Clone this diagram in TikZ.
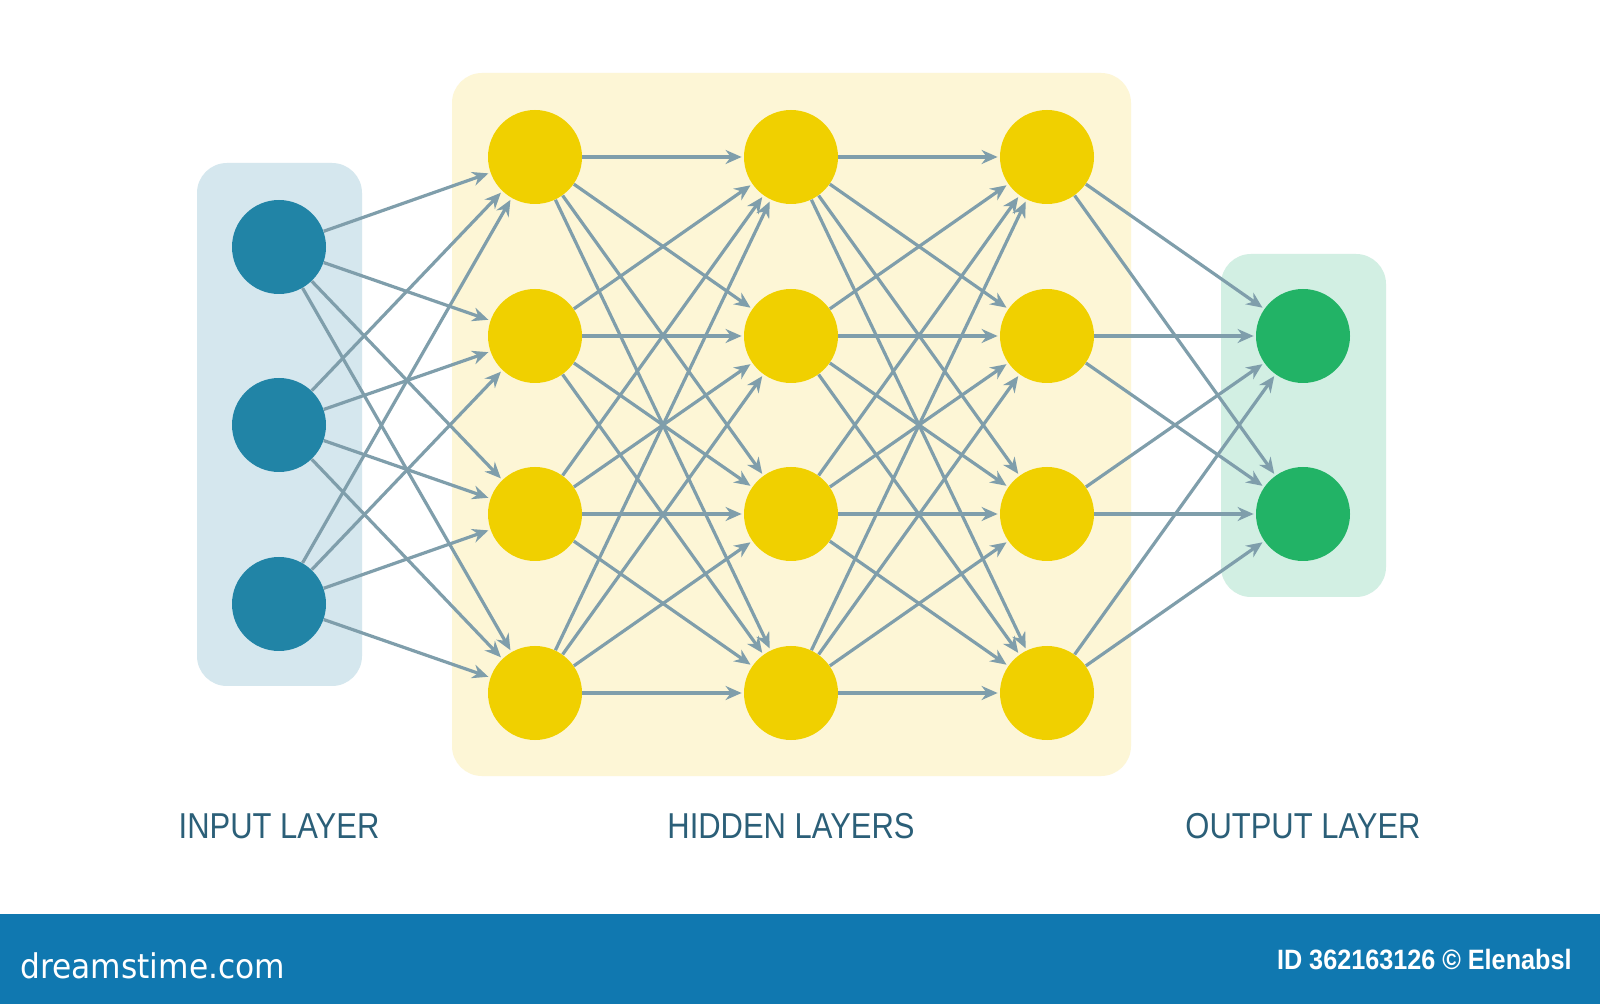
\documentclass[tikz,border=0pt]{standalone}
\usepackage{fontspec}
\setmainfont{Liberation Sans}
\newfontfamily\labelfont[FakeStretch=0.86]{Liberation Sans}
\newfontfamily\bannerfont[FakeStretch=0.9]{Liberation Sans}
\newfontfamily\logofont[FakeStretch=0.92]{DejaVu Sans}
\usetikzlibrary{arrows.meta}
\definecolor{innode}{HTML}{2184A6}
\definecolor{inbox}{HTML}{D5E7EE}
\definecolor{hidnode}{HTML}{F0D000}
\definecolor{hidbox}{HTML}{FDF6D6}
\definecolor{outnode}{HTML}{22B366}
\definecolor{outbox}{HTML}{D2EFE3}
\definecolor{edgecol}{HTML}{7F9EAB}
\definecolor{labelcol}{HTML}{2B5F78}
\definecolor{bannercol}{HTML}{1078B0}
\tikzset{
  neuron/.style={circle, minimum size=47pt, inner sep=0pt, draw=none},
  inneuron/.style={neuron, fill=innode},
  hidneuron/.style={neuron, fill=hidnode},
  outneuron/.style={neuron, fill=outnode},
  conn/.style={draw=edgecol, line width=1.6pt, -{Stealth[length=8pt,width=7pt]}, shorten >=1pt},
  layerlabel/.style={text=labelcol, font=\labelfont\fontsize{18}{20}\selectfont, inner sep=0pt},
  panel/.style={rounded corners=15pt}
}
\begin{document}
\begin{tikzpicture}[x=0.5pt,y=-0.5pt]
\useasboundingbox (0,0) rectangle (1600,1004);
\fill[white] (0,0) rectangle (1600,1004);
% panels
\fill[inbox, panel] (197,163) rectangle (362,686);
\fill[hidbox, panel] (452,73) rectangle (1131,776);
\fill[outbox, panel] (1221,254) rectangle (1386,597);
% neurons
\foreach \i/\y in {1/247,2/425,3/604}
  \node[inneuron] (i\i) at (279,\y) {};
\foreach \c/\x in {a/535,b/791,c/1047}
  \foreach \r/\y in {1/157,2/336,3/514,4/693}
    \node[hidneuron] (\c\r) at (\x,\y) {};
\foreach \r/\y in {1/336,2/514}
  \node[outneuron] (o\r) at (1303,\y) {};
% connections
\foreach \s in {1,2,3}
  \foreach \t in {1,...,4}
    \draw[conn] (i\s) -- (a\t);
\foreach \s in {1,...,4}
  \foreach \t in {1,...,4}
    {\draw[conn] (a\s) -- (b\t);
     \draw[conn] (b\s) -- (c\t);}
\foreach \s in {1,...,4}
  \foreach \t in {1,2}
    \draw[conn] (c\s) -- (o\t);
% labels
\node[layerlabel] (linput) at (279,826) {INPUT LAYER};
\node[layerlabel] (lhidden) at (791,826) {HIDDEN LAYERS};
\node[layerlabel] (loutput) at (1303,826) {OUTPUT LAYER};
% banner
\fill[bannercol] (0,914) rectangle (1600,1004);
\node[text=white, anchor=west, inner sep=0pt, font=\logofont\fontsize{17}{20}\selectfont] (logo) at (20,966) {dreamstime.com};
\node[text=white, anchor=east, inner sep=0pt, font=\bannerfont\bfseries\fontsize{14}{16}\selectfont] (credit) at (1572,960) {ID 362163126 © Elenabsl};
\end{tikzpicture}
\end{document}
